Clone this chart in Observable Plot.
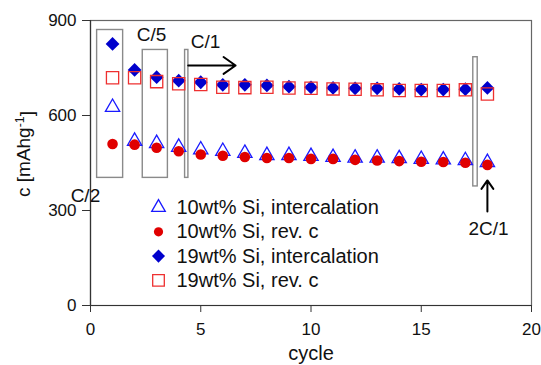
<!DOCTYPE html>
<html><head><meta charset="utf-8">
<script src="https://cdn.jsdelivr.net/npm/d3@7"></script>
<script src="https://cdn.jsdelivr.net/npm/@observablehq/plot@0.6"></script>
<style>
body{margin:0;background:#fff;}
#chart{width:541px;height:365px;}
</style></head><body><div id="chart"></div>
<script>
const cycles = [1,2,3,4,5,6,7,8,9,10,11,12,13,14,15,16,17,18];
const si10Intercalation = [626,519,512,500,492,487,481,474,474,471,468,466,466,464,462,460,458,452];
const si10RevC          = [510,508,498,487,477,473,469,466,466,463,463,460,458,456,454,453,451,444];
const si19Intercalation = [826,744,721,710,705,697,697,695,691,689,687,686,686,684,682,682,683,687];
const si19RevC          = [719,719,707,700,698,689,688,689,687,686,684,683,681,679,679,679,681,668];
const seriesNames = ["10wt% Si, intercalation","10wt% Si, rev. c","19wt% Si, intercalation","19wt% Si, rev. c"];
const xTicks = [0,5,10,15,20];
const yTicks = [0,300,600,900];
// rate-step boxes (cycle range, capacity range)
const boxCycleFrom = [0.30, 2.37, 4.29, 17.36];
const boxCycleTo   = [1.48, 3.51, 4.44, 17.56];
const boxCapFrom   = [403, 403, 403, 376];
const boxCapTo     = [870, 807, 807, 784];
const rateLabels = ["C/2","C/5","C/1","2C/1"];
const rateLabelCycle = [-0.23, 2.77, 5.22, 18.05];
const rateLabelCap = [347, 856, 831, 243];
const arrowCycleFrom = [4.43, 18];
const arrowCycleTo = [6.58, 18];
const arrowCapFrom = [758, 297];
const arrowCapTo = [758, 395];

const styles = [
  {symbol:"triangle", fill:"none", stroke:"#1a1aff", r:5.3, sw:1.3},
  {symbol:"circle", fill:"#e00000", stroke:"none", r:5.3, sw:0},
  {symbol:"diamond2", fill:"#0000cc", stroke:"none", r:6.2, sw:0},
  {symbol:"square", fill:"none", stroke:"#ee3030", r:6.9, sw:1.3}
];
const valueArrays = [si10Intercalation, si10RevC, si19Intercalation, si19RevC];
const data = valueArrays.map((vals, k) => cycles.map((c, i) => ({cycle:c, c:vals[i], series:seriesNames[k]})));
const boxes = boxCycleFrom.map((v,i)=>({x1:v,x2:boxCycleTo[i],y1:boxCapFrom[i],y2:boxCapTo[i]}));
const labels = rateLabels.map((t,i)=>({text:t,x:rateLabelCycle[i],y:rateLabelCap[i],anchor:i===0?"start":"middle"}));
const arrows = arrowCycleFrom.map((v,i)=>({x1:v,x2:arrowCycleTo[i],y1:arrowCapFrom[i],y2:arrowCapTo[i]}));

const font = "'Liberation Sans', Arial, sans-serif";
const marks = [
  Plot.rect(boxes, {x1:"x1",x2:"x2",y1:"y1",y2:"y2",fill:"none",stroke:"#8a8a8a",strokeWidth:1.4}),
  Plot.frame({stroke:"#666", strokeWidth:1.2}),
  Plot.ruleX([0], {stroke:"#333", strokeWidth:1.2}),
  Plot.ruleY([0], {stroke:"#333", strokeWidth:1.2}),
  Plot.axisX({ticks:xTicks, tickSize:7, tickPadding:10, fontSize:17, label:null, stroke:"#333"}),
  Plot.axisY({ticks:yTicks, tickSize:8, tickPadding:6, fontSize:17, label:null, stroke:"#333"}),
  ...data.map((d,k)=>Plot.dot(d, {x:"cycle", y:"c", symbol:()=>styles[k].symbol, fill:styles[k].fill, stroke:styles[k].stroke, r:styles[k].r, strokeWidth:styles[k].sw})),
  Plot.arrow(arrows, {x1:"x1",y1:"y1",x2:"x2",y2:"y2",stroke:"#000",strokeWidth:2,headLength:11,headAngle:70}),
  Plot.text(labels, {x:"x",y:"y",text:"text",textAnchor:d=>d.anchor,fontSize:19,fill:"#111"}),
  // legend
  ...seriesNames.map((name,k)=>Plot.dot([name], {frameAnchor:"top-left", dx:68, dy:187+24.3*k, symbol:()=>styles[k].symbol, fill:styles[k].fill, stroke:styles[k].stroke, r:k===1?4.6:styles[k].r*0.95, strokeWidth:styles[k].sw})),
  ...seriesNames.map((name,k)=>Plot.text([name], {frameAnchor:"top-left", dx:86, dy:187+24.3*k, text:d=>d, textAnchor:"start", lineAnchor:"middle", fontSize:20, fill:"#111"})),
  Plot.text(["cycle"], {frameAnchor:"bottom", dy:48, text:d=>d, fontSize:20, lineAnchor:"middle", fill:"#111"}),
  Plot.text(["c [mAhg-1]"], {frameAnchor:"left", dx:-67, dy:34, rotate:-90, text:d=>d, textAnchor:"start", fontSize:19, lineAnchor:"middle", fill:"#111"})
];
const chart = Plot.plot({
  width:541, height:365,
  marginLeft:90, marginRight:10, marginTop:20, marginBottom:60,
  x:{domain:[0,20]},
  y:{domain:[0,900]},
  symbol:{type:"identity"},
  style:{fontFamily:font, background:"#fff", color:"#111"},
  marks
});
document.getElementById("chart").appendChild(chart);
// superscript in y label
d3.select(chart).selectAll("text").each(function(){
  const t = d3.select(this);
  if (t.text() === "c [mAhg-1]") {
    t.text(null);
    t.append("tspan").text("c [mAhg");
    t.append("tspan").attr("dy","-0.45em").attr("font-size","0.65em").text("-1");
    t.append("tspan").attr("dy","0.45em").text("]");
  }
});
</script></body></html>
